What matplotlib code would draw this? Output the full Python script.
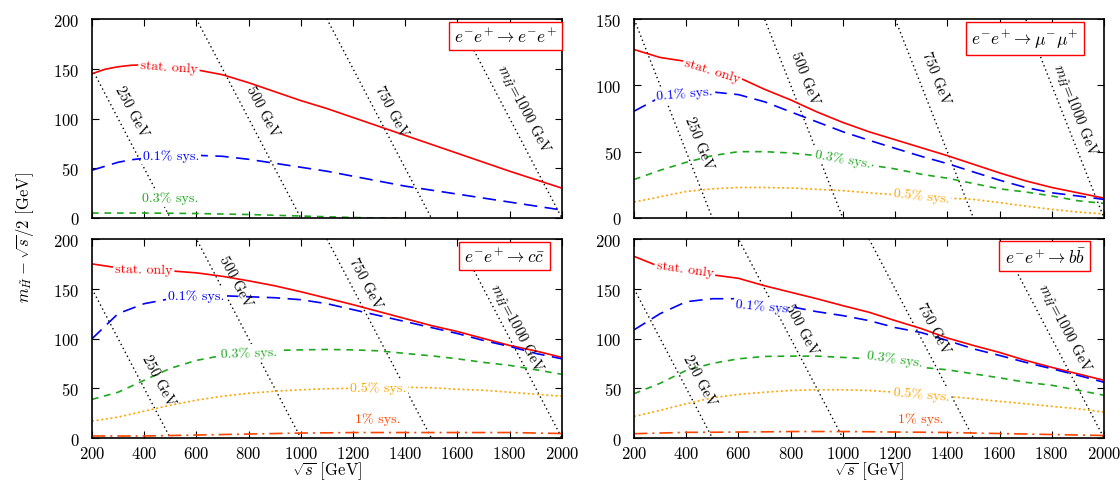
import numpy as np
import matplotlib
matplotlib.use("Agg")
import matplotlib.pyplot as plt

plt.rcParams['font.family'] = ['cmr10', 'DejaVu Serif']
plt.rcParams['mathtext.fontset'] = 'cm'
plt.rcParams['axes.formatter.use_mathtext'] = True
plt.rcParams['axes.unicode_minus'] = False

# ---- data ------------------------------------------------------------------
x_ee = [200, 250, 300, 350, 400, 500, 600, 700, 800, 900, 1000, 1100, 1200,
        1300, 1400, 1500, 1600, 1700, 1800, 1900, 2000]
ee_stat = [145, 149.5, 152, 153.5, 154, 152, 149, 144, 136, 127, 118, 110, 101,
           92, 83, 74, 65, 56, 47, 38.5, 30]
ee_01 = [48, 52, 56, 58.5, 60, 62, 63, 62, 59, 55, 51, 47, 42, 37, 32, 28, 24,
         20, 16, 12, 8]
x_ee03 = [200, 400, 600, 800, 1000, 1200, 1300, 1400]
ee_03 = [5, 5, 4.5, 3.5, 2, 0.5, 0, 0]

x_all = [200, 300, 400, 500, 600, 700, 800, 900, 1000, 1100, 1200, 1300, 1400,
         1500, 1600, 1700, 1800, 1900, 2000]
mm_stat = [127, 121, 118, 113, 106, 97, 89, 80, 72, 65, 59, 53, 47, 40.5, 34,
           28, 23, 19, 15]
mm_01 = [80.5, 91, 94.5, 95, 93, 87.6, 80, 72.5, 65, 58.6, 52.5, 46.5, 41,
         34.7, 28.5, 23, 19, 16.6, 14]
mm_03 = [29, 36, 42, 47, 50, 50, 49, 47, 44, 40, 37, 33, 30, 26, 22, 19.6, 16.6, 13, 11]
mm_05 = [12, 16, 20, 22, 23, 23, 22.6, 21.6, 20.6, 19, 17.5, 16, 15, 14, 11.6, 9, 6.5, 4.5, 3]

cc_stat = [175, 171, 169, 168, 166, 162.5, 158, 153, 147, 140.5, 134, 127, 120,
           113, 107, 100, 93, 87.5, 81]
cc_01 = [99.7, 125, 135, 140, 143, 143, 142, 141, 139, 135, 129, 123, 117,
         111, 105, 98, 92, 85, 79.6]
cc_03 = [38.8, 46, 58, 70, 78, 83, 86, 88, 88.6, 89, 88.6, 87.6, 85, 82.6,
         79.6, 76, 73, 68.6, 64]
cc_05 = [17, 21, 27, 33, 38, 42, 45, 47, 48.5, 49.5, 50, 50.5, 51, 50.5, 49,
         48, 46, 44, 42]
cc_1 = [2, 2, 2, 2.5, 3, 3.5, 4, 4.5, 5, 5.2, 5.5, 5.5, 5.5, 5.5, 5.5, 5.5,
        5.5, 5, 4.5]

bb_stat = [182.6, 172, 168, 164, 160.5, 153, 146.5, 140, 133, 126.4, 118, 110,
           100.5, 93, 86, 78, 71, 64.5, 58]
bb_01 = [108.7, 125, 137, 140, 140, 137, 132, 127, 123, 118, 111, 106, 98,
         89.6, 83, 76, 69.6, 63, 56]
bb_03 = [44.5, 55, 68, 75, 79.6, 82, 82.3, 82.3, 81, 79.6, 76, 71, 68.6, 64.5,
         60.5, 56, 53, 48, 43]
bb_05 = [21.7, 27.8, 34.4, 40.5, 43.8, 46, 47.8, 48.5, 48.5, 47.8, 46, 44,
         41.8, 39.5, 36.8, 34.4, 31.8, 29.4, 26]
bb_1 = [4.3, 5, 5.7, 5.8, 6, 6.2, 6.5, 6.5, 6.5, 6.3, 6, 5.8, 5.5, 5, 4.5, 4,
        3.5, 3, 2.5]

# higgsino mass contours: m = y + sqrt(s)/2
m_higgsino = [250, 500, 750, 1000]
m_labels = ['250 GeV', '500 GeV', '750 GeV', r'$m_{\tilde{H}}$=1000 GeV']

process_labels = [r'$e^{-}e^{+}\rightarrow e^{-}e^{+}$',
                  r'$e^{-}e^{+}\rightarrow \mu^{-}\mu^{+}$',
                  r'$e^{-}e^{+}\rightarrow c\bar{c}$',
                  r'$e^{-}e^{+}\rightarrow b\bar{b}$']

# ---- styles ----------------------------------------------------------------
styles = {
    'stat': dict(color='#ff0000', lw=1.2, ls='-'),
    '0.1': dict(color='#0000ff', lw=1.2, dashes=(8, 4.5)),
    '0.3': dict(color='#1fa81f', lw=1.2, dashes=(4, 3.5)),
    '0.5': dict(color='#ffa500', lw=1.2, dashes=(1.2, 1.6)),
    '1': dict(color='#ff4500', lw=1.2, dashes=(8, 3, 1.2, 3)),
}
label_text = {'stat': 'stat. only', '0.1': '0.1% sys.', '0.3': '0.3% sys.',
              '0.5': '0.5% sys.', '1': '1% sys.'}

panels = [
    dict(ylim=200, curves=[('stat', x_ee, ee_stat), ('0.1', x_ee, ee_01),
                           ('0.3', x_ee03, ee_03)],
         clabels=[('stat', 495, 152, -4), ('0.1', 502, 63, 0), ('0.3', 499, 20, 0)],
         mlab=[(352, 108), (851, 108), (1346, 108), (1854, 110)],
         box=(0.99, 0.915)),
    dict(ylim=150, curves=[('stat', x_all, mm_stat), ('0.1', x_all, mm_01),
                           ('0.3', x_all, mm_03), ('0.5', x_all, mm_05)],
         clabels=[('stat', 500, 111, -17), ('0.1', 395, 94, 5),
                  ('0.3', 998, 45, -10), ('0.5', 1300, 17, -6)],
         mlab=[(450, 57), (854, 106), (1355, 106), (1890, 82)],
         box=(0.947, 0.90)),
    dict(ylim=200, curves=[('stat', x_all, cc_stat), ('0.1', x_all, cc_01),
                           ('0.3', x_all, cc_03), ('0.5', x_all, cc_05),
                           ('1', x_all, cc_1)],
         clabels=[('stat', 398, 169, -1), ('0.1', 600, 143, 0),
                  ('0.3', 802, 86, 2), ('0.5', 1296, 51, 0), ('1', 1296, 19, 0)],
         mlab=[(453, 58), (750, 158), (1247, 156), (1825, 111)],
         box=(0.964, 0.915)),
    dict(ylim=200, curves=[('stat', x_all, bb_stat), ('0.1', x_all, bb_01),
                           ('0.3', x_all, bb_03), ('0.5', x_all, bb_05),
                           ('1', x_all, bb_1)],
         clabels=[('stat', 395, 170, -8), ('0.1', 697, 133, -5),
                  ('0.3', 1197, 80, -8), ('0.5', 1300, 44, -5), ('1', 1300, 19.5, 0)],
         mlab=[(450, 58), (840, 110), (1348, 111), (1849, 111)],
         box=(0.96, 0.915)),
]

fig = plt.figure(figsize=(11.2, 4.81), dpi=100)
lefts = [0.0821, 0.5661]
bottoms = [0.5447, 0.0873]
w, h = 0.4196, 0.4137

xs = np.array([200, 2000])
for i, p in enumerate(panels):
    ax = fig.add_axes([lefts[i % 2], bottoms[i // 2], w, h])
    ax.set_xlim(200, 2000)
    ax.set_ylim(0, p['ylim'])

    for key, xx, yy in p['curves']:
        ax.plot(xx, yy, zorder=2, **styles[key])

    for m, lab, (lx, ly) in zip(m_higgsino, m_labels, p['mlab']):
        ax.plot(xs, m - xs / 2, color='black', lw=1.0, dashes=(1, 2.2), zorder=1)
        ax.text(lx, ly, lab, fontsize=10.5, ha='center', va='center',
                rotation=np.degrees(np.arctan2(-0.5, 1)),
                transform_rotates_text=True, rotation_mode='anchor', zorder=4)

    for key, lx, ly, rot in p['clabels']:
        ax.text(lx, ly, label_text[key], fontsize=10, color=styles[key]['color'],
                ha='center', va='center', rotation=rot, rotation_mode='anchor',
                bbox=dict(facecolor='white', edgecolor='none', pad=1.5), zorder=3)

    ax.text(p['box'][0], p['box'][1], process_labels[i], transform=ax.transAxes,
            ha='right', va='center', fontsize=12.5, zorder=5,
            bbox=dict(facecolor='white', edgecolor='#ff0000', lw=1.0,
                      boxstyle='square,pad=0.3'))

    ax.set_xticks(np.arange(200, 2001, 200))
    ax.set_yticks(np.arange(0, p['ylim'] + 1, 50))
    ax.tick_params(direction='in', top=True, right=True, length=5, width=0.8,
                   labelsize=12)
    ax.tick_params(axis='y', pad=9)
    ax.tick_params(axis='x', pad=5)
    for s in ax.spines.values():
        s.set_linewidth(1.2)
    if i < 2:
        ax.set_xticklabels([])
    else:
        ax.set_xlabel(r'$\sqrt{s}$ [GeV]', fontsize=12, labelpad=-1)

fig.text(0.022, 0.507, r'$m_{\tilde{H}}-\sqrt{s}/2$ [GeV]', rotation=90,
         ha='center', va='center', fontsize=12)

fig.savefig('out.png', dpi=100)
